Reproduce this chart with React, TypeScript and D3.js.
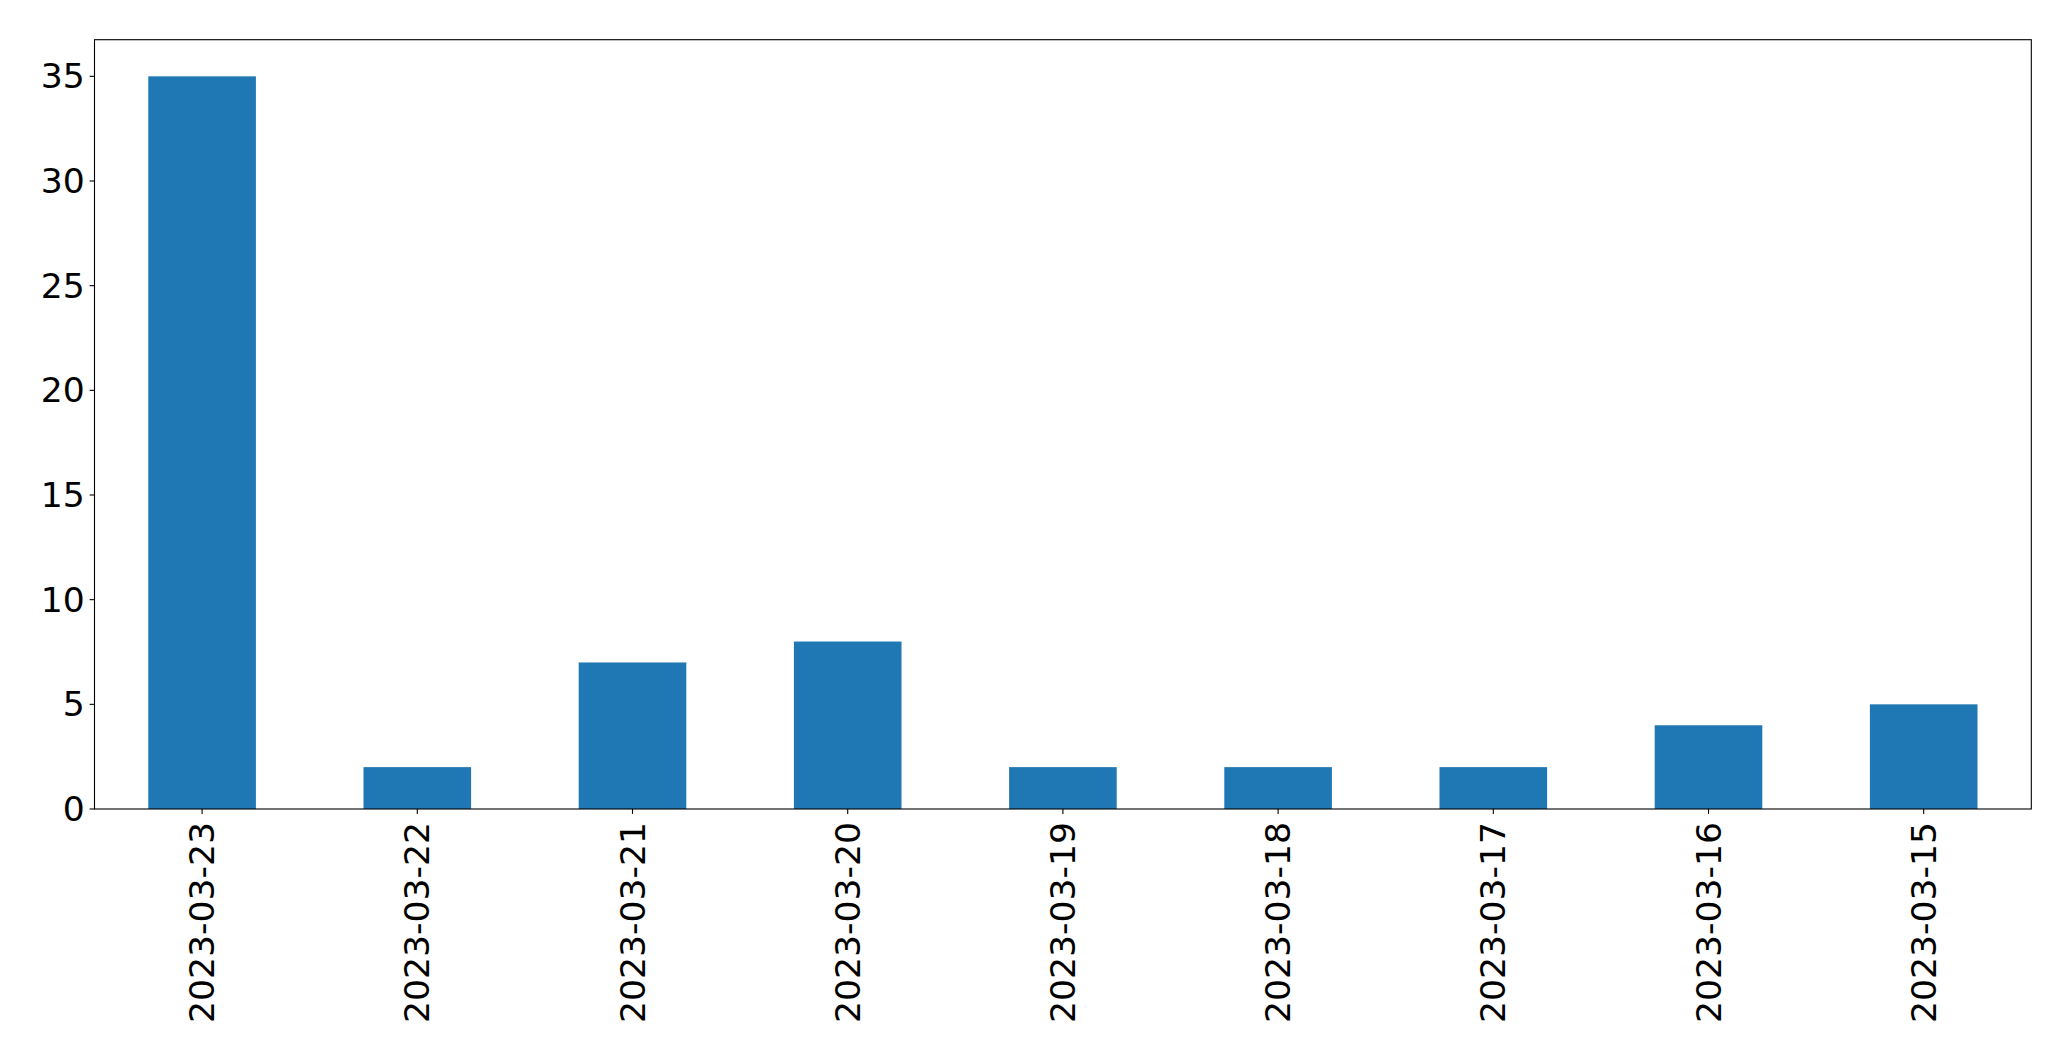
import React from "react";
import * as d3 from "d3";

const categories = ["2023-03-23", "2023-03-22", "2023-03-21", "2023-03-20", "2023-03-19", "2023-03-18", "2023-03-17", "2023-03-16", "2023-03-15"];
const values = [35, 2, 7, 8, 2, 2, 2, 4, 5];
const yTicks = [0, 5, 10, 15, 20, 25, 30, 35];

const W = 2071, H = 1061;
const left = 94.5, right = 2031.3, top = 39.7, bottom = 809;
const FS = 34.6;

export default function App() {
  const x = d3.scaleLinear().domain([-0.5, categories.length - 0.5]).range([left, right]);
  const y = d3.scaleLinear().domain([0, 35 * 1.05]).range([bottom, top]);
  const bw = x(0.25) - x(-0.25);
  return (
    <svg width={W} height={H} style={{ position: "absolute", left: 0, top: 0 }} fontFamily="DejaVu Sans">
      <rect x={0} y={0} width={W} height={H} fill="#fff" />
      {values.map((v, i) => (
        <rect key={i} x={x(i) - bw / 2} y={y(v)} width={bw} height={y(0) - y(v)} fill="#1f77b4" />
      ))}
      <rect x={left} y={top} width={right - left} height={bottom - top} fill="none" stroke="#000" strokeWidth={1.1} />
      {yTicks.map((t) => (
        <g key={t}>
          <line x1={left - 4.9} x2={left} y1={y(t)} y2={y(t)} stroke="#000" strokeWidth={1.1} />
          <text x={left - 9.8} y={y(t)} dy="0.35em" textAnchor="end" fontSize={FS} fill="#000">{t}</text>
        </g>
      ))}
      {categories.map((c, i) => (
        <g key={c}>
          <line x1={x(i)} x2={x(i)} y1={bottom} y2={bottom + 4.9} stroke="#000" strokeWidth={1.1} />
          <text transform={`translate(${x(i)},${bottom + 13}) rotate(-90)`} textAnchor="end" dy="0.35em" fontSize={FS} fill="#000">{c}</text>
        </g>
      ))}
    </svg>
  );
}
